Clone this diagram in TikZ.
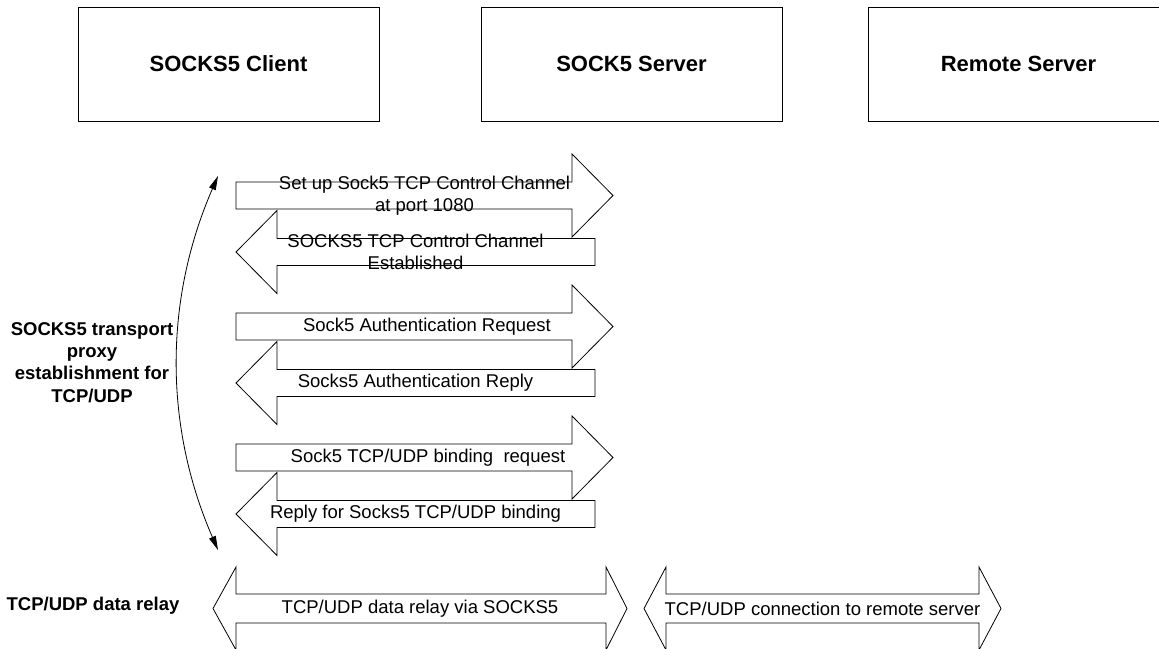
\documentclass[tikz,border=0pt]{standalone}
\usepackage{fontspec}
\setmainfont{Liberation Sans}
\usetikzlibrary{arrows.meta}

% block arrow pointing right: tail x, head base x, tip x, axis y
\newcommand\flowright[4]{%
  \draw[flow] (#1,#4-13.5) -- (#2,#4-13.5) -- (#2,#4-41.5) -- (#3,#4)
    -- (#2,#4+41.5) -- (#2,#4+13.5) -- (#1,#4+13.5) -- cycle;}
% block arrow pointing left: tip x, head base x, tail x, axis y
\newcommand\flowleft[4]{%
  \draw[flow] (#1,#4) -- (#2,#4-41.5) -- (#2,#4-13.5) -- (#3,#4-13.5)
    -- (#3,#4+13.5) -- (#2,#4+13.5) -- (#2,#4+41.5) -- cycle;}
% block arrow with heads at both ends: left tip, left base, right base, right tip, axis y
\newcommand\flowboth[5]{%
  \draw[flow] (#1,#5) -- (#2,#5-41.5) -- (#2,#5-14.5) -- (#3,#5-14.5)
    -- (#3,#5-41.5) -- (#4,#5) -- (#3,#5+41.5) -- (#3,#5+14.5)
    -- (#2,#5+14.5) -- (#2,#5+41.5) -- cycle;}

\begin{document}
\begin{tikzpicture}[x=1pt,y=-1pt,
  every node/.style={inner sep=0pt, outer sep=0pt},
  party/.style={draw=black, line width=0.8pt, fill=white,
    minimum width=301pt, minimum height=114pt,
    font=\fontsize{22}{26}\selectfont\bfseries},
  flow/.style={draw=black, line width=0.8pt, fill=white, line join=miter},
  msg/.style={align=center, font=\fontsize{18.5}{21.5}\selectfont},
  note/.style={align=center, font=\fontsize{18.5}{22.3}\selectfont\bfseries},
  span/.style={line width=0.8pt,
    {Triangle[length=14pt,width=7pt]}-{Triangle[length=14pt,width=7pt]}}
]
\clip (0,0) rectangle (1159,648);
\fill[white] (0,0) rectangle (1159,648);

% participants
\node[party] (client) at (228.5,64) {SOCKS5 Client};
\node[party] (server) at (631.5,64) {SOCK5 Server};
\node[party] (remote) at (1018.5,64) {Remote Server};

% handshake messages
\flowright{236}{572}{613}{195.5}
\flowleft{236}{277}{595}{252}
\flowright{236}{572}{613}{326.5}
\flowleft{236}{277}{595}{383}
\flowright{236}{572}{613}{457.5}
\flowleft{236}{277}{595}{514}

\node[msg] (m1) at (424.5,195.5) {Set up Sock5 TCP Control Channel\\at port 1080};
\node[msg] (m2) at (415.5,252) {SOCKS5 TCP Control Channel\\Established};
\node[msg] (m3) at (427,326.5) {Sock5 Authentication Request};
\node[msg] (m4) at (415.5,383) {Socks5 Authentication Reply};
\node[msg] (m5) at (428,457.5) {Sock5 TCP/UDP binding\ \ request};
\node[msg] (m6) at (415.5,514) {Reply for Socks5 TCP/UDP binding};

% span of the establishment phase
\coordinate (estTop) at (218,176);
\coordinate (estBot) at (218,550);
\draw[span] (estTop) .. controls (164,300) and (164,426) .. (estBot);
\node[note] (phase) at (92,362.5) {SOCKS5 transport\\proxy\\establishment for\\TCP/UDP};

% data relay
\flowboth{213}{236}{606}{627}{608.5}
\flowboth{644}{666}{979}{1001}{608.5}
\node[msg] (r1) at (420,608.5) {TCP/UDP data relay via SOCKS5};
\node[msg] (r2) at (822.5,608.5) {TCP/UDP connection to remote server};
\node[note] (relay) at (93,606) {TCP/UDP data relay};
\end{tikzpicture}
\end{document}
